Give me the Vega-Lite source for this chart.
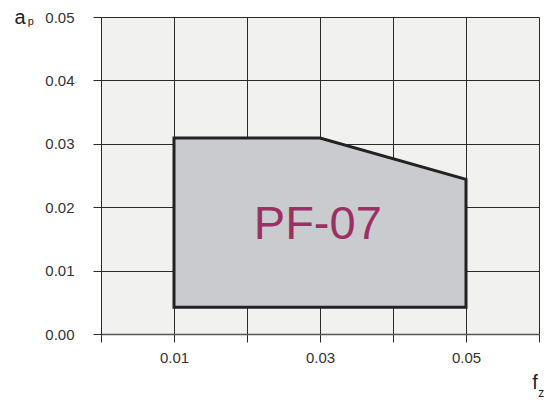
{
  "$schema": "https://vega.github.io/schema/vega-lite/v6.json",
  "width": 438,
  "height": 317,
  "autosize": {"type": "none"},
  "padding": {"left": 101, "top": 17, "right": 11, "bottom": 67},
  "background": "#ffffff",
  "view": {"fill": "#f1f1f0", "stroke": null},
  "config": {
    "font": "Liberation Sans",
    "axis": {
      "grid": true,
      "gridColor": "#2a2a2a",
      "gridWidth": 1,
      "gridOpacity": 1,
      "tickColor": "#2a2a2a",
      "tickSize": 8,
      "tickWidth": 1,
      "labelFont": "Liberation Sans",
      "labelFontSize": 15,
      "labelColor": "#333333",
      "title": null
    }
  },
  "datasets": {
    "region": [
      {"fz": 0.01, "ap": 0.0309, "ap0": 0.0042},
      {"fz": 0.03, "ap": 0.0309, "ap0": 0.0042},
      {"fz": 0.05, "ap": 0.0244, "ap0": 0.0042}
    ],
    "label": [{"fz": 0.0297, "ap": 0.0172, "text": "PF-07"}],
    "titles": [
      {"fz": -0.0111, "ap": 0.0489, "text": "a", "size": 20},
      {"fz": -0.0096, "ap": 0.0487, "text": "p", "size": 11},
      {"fz": 0.05945, "ap": -0.00868, "text": "f", "size": 20},
      {"fz": 0.0603, "ap": -0.00994, "text": "z", "size": 12}
    ]
  },
  "layer": [
    {
      "data": {"name": "region"},
      "mark": {"type": "area", "fill": "#c9cbce", "stroke": "#222222", "strokeWidth": 3, "strokeJoin": "miter", "interpolate": "linear"},
      "encoding": {
        "x": {
          "field": "fz", "type": "quantitative",
          "scale": {"domain": [0, 0.06], "nice": false, "zero": false},
          "axis": {
            "values": [0, 0.01, 0.02, 0.03, 0.04, 0.05, 0.06],
            "format": ".2f",
            "labelExpr": "datum.value == 0.01 || datum.value == 0.03 || datum.value == 0.05 ? datum.label : ''",
            "labelPadding": 8,
            "domainColor": "#555555",
            "domainWidth": 1.5,
            "labelFlush": false
          }
        },
        "y": {
          "field": "ap", "type": "quantitative",
          "scale": {"domain": [0, 0.05], "nice": false, "zero": false},
          "axis": {
            "values": [0, 0.01, 0.02, 0.03, 0.04, 0.05],
            "format": ".2f",
            "labelPadding": 19,
            "domainColor": "#2a2a2a",
            "domainWidth": 1,
            "labelFlush": false
          }
        },
        "y2": {"field": "ap0"}
      }
    },
    {
      "data": {"name": "label"},
      "mark": {"type": "text", "fontSize": 47, "color": "#9b3163", "align": "center", "baseline": "middle", "font": "Liberation Sans"},
      "encoding": {
        "x": {"field": "fz", "type": "quantitative"},
        "y": {"field": "ap", "type": "quantitative"},
        "text": {"field": "text"}
      }
    },
    {
      "data": {"name": "titles"},
      "mark": {"type": "text", "color": "#222222", "align": "center", "baseline": "alphabetic", "clip": false, "font": "Liberation Sans"},
      "encoding": {
        "x": {"field": "fz", "type": "quantitative"},
        "y": {"field": "ap", "type": "quantitative"},
        "text": {"field": "text"},
        "size": {"field": "size", "type": "quantitative", "scale": null}
      }
    }
  ]
}
